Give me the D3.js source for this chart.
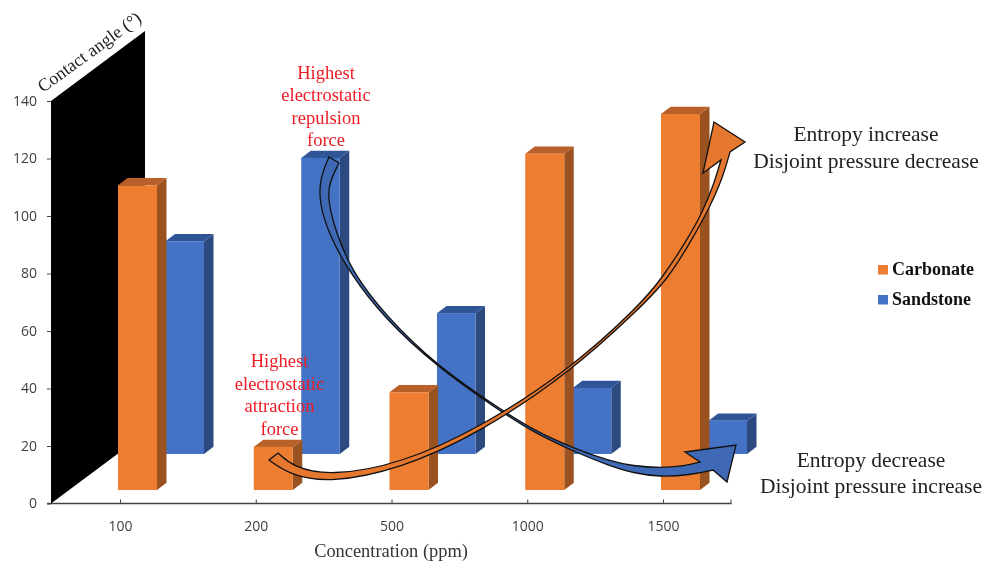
<!DOCTYPE html>
<html><head><meta charset="utf-8"><style>html,body{margin:0;background:#fff}svg{display:block;filter:blur(.5px)}</style>
<script src="https://cdn.jsdelivr.net/npm/d3@7/dist/d3.min.js"></script></head><body><svg id="c" width="982" height="563"></svg>
<script>
const categories=["100","200","500","1000","1500"];
const carbonate=[106,15,34,117,130.8];
const sandstone=[74,103,49,23,11.6];
const yTicks=[0,20,40,60,80,100,120,140];
const redTop=["Highest","electrostatic","repulsion","force"];
const redBottom=["Highest","electrostatic","attraction","force"];
const noteTop=["Entropy increase","Disjoint pressure decrease"];
const noteBottom=["Entropy decrease","Disjoint pressure increase"];
const orangeOuter=[[269,460],[290,475],[330,483],[400,469],[480,433],[572,371],[640,308],[667,280],[690,243],[710,207],[723,177],[730,152]];
const orangeInner=[[278,453],[293,467],[330,476],[400,464],[480,428],[572,368],[640,305],[663,277],[687,240],[702,213],[713,187],[721,160]];
const orangeHead=[[730,152],[745,142],[714,122],[703,173],[721,160]];
const blueOuter=[[329,157],[320,178],[319,203],[330,237],[350,273],[383,317],[437,367],[500,411],[533,432],[575,452],[610,466],[633,473],[660,477],[690,475],[713,470]];
const blueInner=[[339,163],[329,183],[328,200],[335,230],[352,272],[385,315],[437,366],[500,409],[533,430],[575,449],[610,461],[633,466],[660,468],[685,466],[700,462]];
const blueHead=[[713,470],[727,482],[736,445],[685,452],[700,462]];

const svg=d3.select("#c");
const SERIF="'Liberation Serif',serif", SANS="'Open Sans',sans-serif";
const x=d3.scalePoint().domain(categories).range([120,663]);
const y=d3.scaleLinear().domain([0,140]).range([503.5,101]);
const depth={dx:9.5,dy:7.2};
const wallDx=94, wallDy=70;

// back wall
svg.append("path").attr("d",d3.line()([[51,y(0)],[51,y(140)],[51+wallDx,y(140)-wallDy],[51+wallDx,y(0)-wallDy]])+"Z").attr("fill","#000");

function bars(values,cfg){
  const g=svg.append("g");
  values.forEach((v,i)=>{
    const l=x(categories[i])+cfg.off, r=l+cfg.w, b=y(0)-cfg.lift, t=b-(y(0)-y(v));
    const d=depth;
    g.append("path").attr("d",d3.line()([[r,b],[r,t],[r+d.dx,t-d.dy],[r+d.dx,b-d.dy]])+"Z").attr("fill",cfg.side);
    g.append("path").attr("d",d3.line()([[l,t],[r,t],[r+d.dx,t-d.dy],[l+d.dx,t-d.dy]])+"Z").attr("fill",cfg.top);
    g.append("rect").attr("x",l).attr("y",t).attr("width",cfg.w).attr("height",b-t).attr("fill",cfg.front);
  });
}
bars(sandstone,{off:45.5,w:38.5,lift:49.5,front:"#4472c4",side:"#2c4a80",top:"#2f5597"});
bars(carbonate,{off:-2,w:39,lift:13.5,front:"#ed7d31",side:"#9a5220",top:"#b9602a"});

// axes
const gy=svg.append("g").attr("transform","translate(51,0)").call(d3.axisLeft(y).tickValues(yTicks).tickSize(4).tickPadding(10));
const gx=svg.append("g").attr("transform",`translate(0,${y(0)})`).call(d3.axisBottom(x).tickSize(-4).tickPadding(18));
gx.select(".domain").remove();
gy.select(".domain").remove();
svg.append("line").attr("x1",47).attr("x2",731.5).attr("y1",y(0)).attr("y2",y(0)).attr("stroke","#444").attr("stroke-width",1.4);
svg.append("line").attr("x1",731).attr("x2",731).attr("y1",y(0)).attr("y2",y(0)-4).attr("stroke","#444");
svg.selectAll(".tick line").attr("stroke","#444");
svg.selectAll(".tick text").attr("font-family",SANS).attr("font-size",14).attr("fill","#404040");

// arrows
const smooth=d3.line().curve(d3.curveBasis);
function arrow(outer,inner,head,fill){
  const a=smooth(outer), b=smooth(inner.slice().reverse());
  const d=a+"L"+head.slice(1).map(p=>p.join(",")).join("L")+"L"+b.slice(1)+"Z";
  svg.append("path").attr("d",d).attr("fill",fill).attr("stroke","#111").attr("stroke-width",1.3).attr("stroke-linejoin","miter");
}
arrow(blueOuter,blueInner,blueHead,"#3f69b4");
arrow(orangeOuter,orangeInner,orangeHead,"#e5772e");

function lines(arr,cx,y0,dy,size,fill){
  const t=svg.append("text").attr("text-anchor","middle").attr("font-family",SERIF).attr("font-size",size).attr("fill",fill);
  arr.forEach((s,i)=>t.append("tspan").attr("x",cx).attr("y",y0+i*dy).text(s));
}
lines(redTop,326,79,22.4,18.5,"#ee1c25");
lines(redBottom,279.5,367,22.6,18.5,"#ee1c25");
lines(noteTop,866,141,27,21.5,"#222");
lines(noteBottom,871,467,26,21.5,"#222");

svg.append("text").attr("x",391).attr("y",557).attr("text-anchor","middle").attr("font-family",SERIF).attr("font-size",18.4).attr("fill","#333").text("Concentration (ppm)");
svg.append("text").attr("transform","translate(43,93) rotate(-36)").attr("font-family",SERIF).attr("font-size",18).attr("fill","#222").text("Contact angle (°)");

// legend
[["Carbonate","#ed7d31",265],["Sandstone","#4472c4",295]].forEach(([s,c,ty])=>{
  svg.append("rect").attr("x",878).attr("y",ty).attr("width",10).attr("height",9.5).attr("fill",c);
  svg.append("text").attr("x",892).attr("y",ty+10).attr("font-family",SERIF).attr("font-weight","bold").attr("font-size",18).attr("fill","#111").text(s);
});
</script></body></html>
